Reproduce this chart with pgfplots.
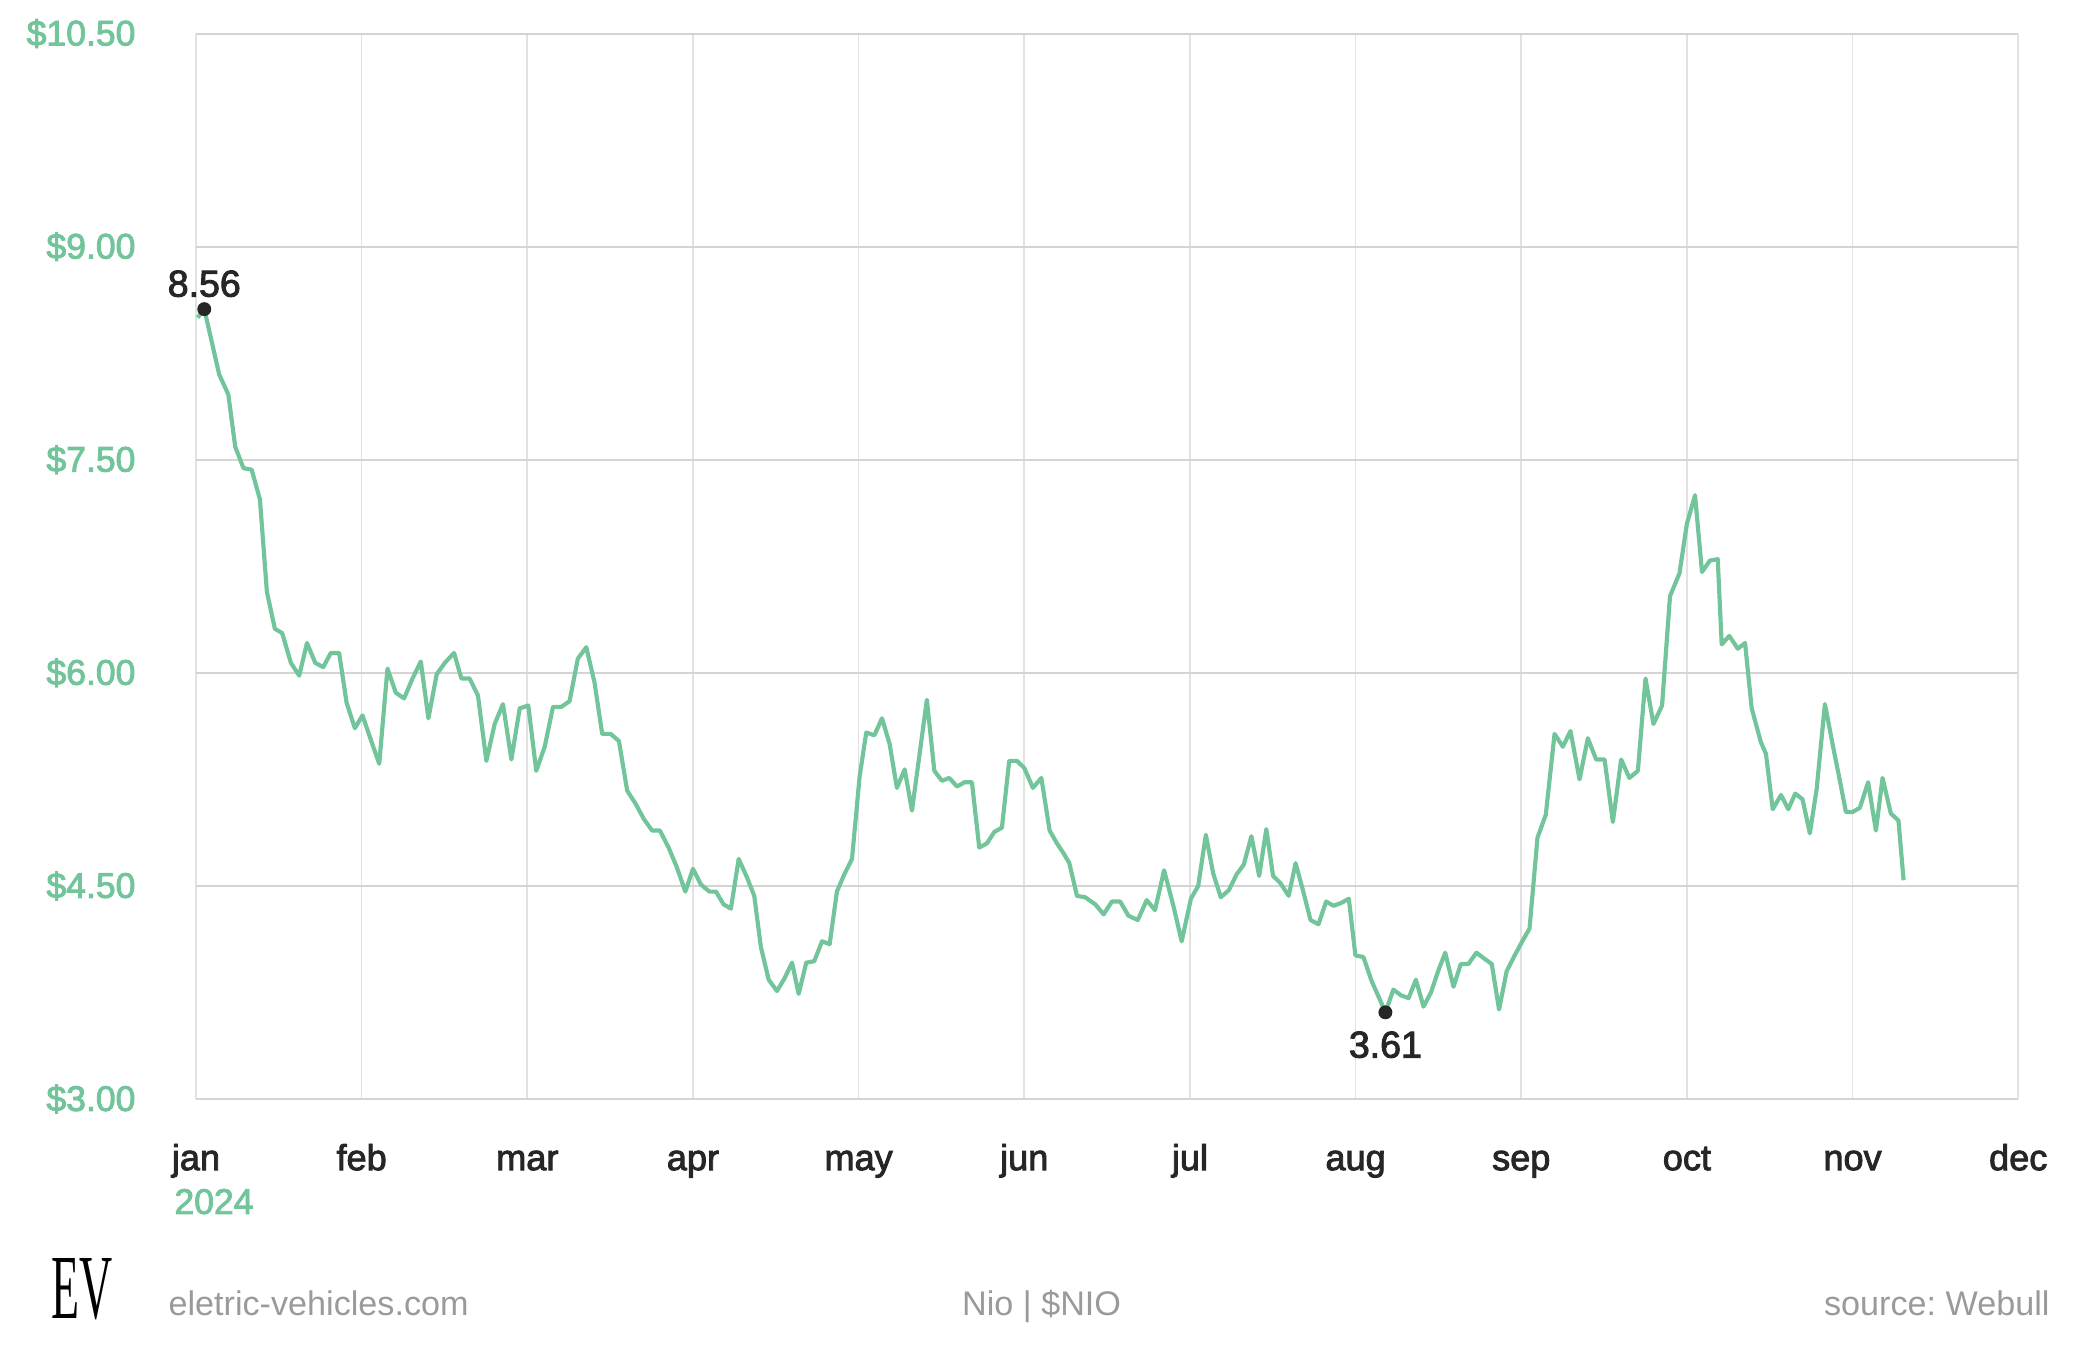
\documentclass[border=0pt]{standalone}
\usepackage{graphicx}
\usepackage{pgfplots}
\pgfplotsset{compat=1.18}
\usepackage{pgfplotstable}
\usepackage{fontspec}
\setmainfont{Liberation Sans}
\newfontfamily\medfont[FakeBold=2.5]{Liberation Sans}
\newfontfamily\seriffont{Liberation Serif}
\definecolor{evgreen}{HTML}{72C49A}
\definecolor{hgrid}{HTML}{D4D4D4}
\definecolor{vgrid}{HTML}{E2E2E2}
\definecolor{darktext}{HTML}{262626}
\definecolor{foot}{HTML}{9A9A9A}
\frenchspacing

\pgfplotstableread{
m v
0.01 8.50
0.05 8.56
0.14 8.10
0.195 7.96
0.237 7.59
0.287 7.44
0.336 7.43
0.386 7.22
0.428 6.57
0.476 6.31
0.52 6.28
0.573 6.07
0.623 5.98
0.67 6.21
0.72 6.07
0.768 6.04
0.814 6.14
0.864 6.14
0.909 5.79
0.959 5.61
1.005 5.70
1.055 5.53
1.106 5.36
1.156 6.03
1.206 5.86
1.256 5.82
1.307 5.96
1.357 6.08
1.403 5.68
1.453 5.99
1.502 6.07
1.558 6.14
1.602 5.96
1.652 5.96
1.702 5.84
1.753 5.38
1.803 5.64
1.853 5.78
1.904 5.39
1.954 5.75
2.006 5.77
2.054 5.31
2.105 5.48
2.155 5.76
2.205 5.76
2.255 5.80
2.305 6.10
2.356 6.18
2.406 5.93
2.452 5.57
2.503 5.57
2.553 5.52
2.603 5.17
2.653 5.08
2.704 4.97
2.753 4.89
2.80 4.89
2.853 4.77
2.903 4.63
2.954 4.46
3.0 4.62
3.048 4.51
3.099 4.46
3.139 4.46
3.185 4.37
3.229 4.34
3.276 4.69
3.326 4.56
3.37 4.43
3.41 4.07
3.457 3.84
3.507 3.76
3.553 3.85
3.598 3.96
3.638 3.74
3.684 3.96
3.732 3.97
3.779 4.11
3.825 4.09
3.869 4.46
3.913 4.58
3.96 4.69
4.006 5.27
4.046 5.58
4.095 5.56
4.141 5.68
4.187 5.50
4.231 5.19
4.278 5.32
4.322 5.03
4.412 5.81
4.457 5.31
4.503 5.24
4.547 5.26
4.594 5.20
4.64 5.23
4.684 5.23
4.728 4.77
4.775 4.80
4.819 4.88
4.865 4.91
4.909 5.38
4.956 5.38
5.0 5.33
5.052 5.19
5.103 5.26
5.153 4.89
5.197 4.80
5.237 4.73
5.272 4.66
5.318 4.43
5.368 4.42
5.429 4.37
5.479 4.30
5.529 4.39
5.579 4.39
5.629 4.29
5.685 4.26
5.739 4.40
5.789 4.33
5.844 4.61
5.90 4.36
5.95 4.11
6.006 4.41
6.05 4.50
6.096 4.86
6.14 4.59
6.186 4.42
6.235 4.47
6.281 4.58
6.325 4.65
6.371 4.85
6.418 4.57
6.461 4.90
6.502 4.57
6.546 4.52
6.596 4.43
6.638 4.66
6.682 4.47
6.728 4.26
6.776 4.23
6.822 4.39
6.867 4.36
6.913 4.38
6.959 4.41
6.999 4.01
7.047 4.00
7.097 3.83
7.139 3.72
7.18 3.61
7.228 3.77
7.274 3.73
7.32 3.71
7.364 3.84
7.41 3.65
7.455 3.75
7.498 3.90
7.541 4.03
7.591 3.79
7.635 3.95
7.681 3.95
7.729 4.03
7.775 3.99
7.822 3.95
7.866 3.63
7.912 3.90
7.96 4.01
8.006 4.11
8.05 4.20
8.098 4.84
8.148 5.00
8.201 5.57
8.251 5.48
8.297 5.59
8.352 5.25
8.402 5.54
8.452 5.39
8.503 5.39
8.553 4.95
8.603 5.39
8.653 5.26
8.704 5.31
8.75 5.96
8.798 5.64
8.85 5.77
8.898 6.54
8.955 6.70
9.0 7.05
9.049 7.25
9.091 6.71
9.139 6.79
9.186 6.80
9.21 6.20
9.256 6.26
9.307 6.17
9.351 6.21
9.391 5.75
9.447 5.51
9.477 5.43
9.518 5.04
9.568 5.14
9.612 5.04
9.654 5.15
9.698 5.11
9.742 4.87
9.783 5.18
9.833 5.78
9.879 5.50
9.92 5.26
9.96 5.02
10.0 5.02
10.044 5.05
10.094 5.23
10.141 4.89
10.181 5.26
10.231 5.01
10.277 4.96
10.308 4.54
}\nio

\begin{document}
\begin{tikzpicture}
\useasboundingbox (0,0) rectangle (750.24pt,-487.8pt);
\begin{axis}[
  scale only axis,
  width=656pt, height=383.58pt,
  at={(70.56pt,-395.64pt)}, anchor=south west,
  xmin=0, xmax=11, ymin=3, ymax=10.5,
  clip=false,
  axis line style={draw=none},
  major tick length=0pt,
  xtick={0,1,2,3,4,5,6,7,8,9,10,11},
  xticklabels={jan,feb,mar,apr,may,jun,jul,aug,sep,oct,nov,dec},
  ytick={3,4.5,6,7.5,9,10.5},
  yticklabels={\$3.00,\$4.50,\$6.00,\$7.50,\$9.00,\$10.50},
  xmajorgrids, ymajorgrids,
  x grid style={color=vgrid, line width=0.6pt},
  y grid style={color=hgrid, line width=0.7pt},
  yticklabel style={font=\medfont\fontsize{12.8}{14}\selectfont, text=evgreen, anchor=east, inner sep=0pt, xshift=-21.6pt},
  xticklabel style={font=\medfont\fontsize{13}{14}\selectfont, text=darktext, anchor=base, inner sep=0pt, yshift=-25.6pt},
]
\addplot[color=evgreen, line width=1.5pt, line join=round, no markers] table[x=m, y=v] {\nio};
\addplot[only marks, mark=*, mark size=2.3pt, color=darktext] coordinates {(0.05,8.56)}
  node[anchor=base, yshift=4.5pt, font=\medfont\fontsize{13.5}{15}\selectfont, text=darktext] {8.56};
\addplot[only marks, mark=*, mark size=2.3pt, color=darktext] coordinates {(7.18,3.61)}
  node[anchor=base, yshift=-16.3pt, font=\medfont\fontsize{13.5}{15}\selectfont, text=darktext] {3.61};
\end{axis}
\node[anchor=base west, inner sep=0pt, text=evgreen, font=\medfont\fontsize{12.8}{14}\selectfont] at (62.6pt,-437pt) {2024};
\node[anchor=base west, inner sep=0pt] at (18.4pt,-474.5pt) {\scalebox{0.5}[1]{\seriffont\fontsize{33}{33}\selectfont EV}};
\node[anchor=base west, inner sep=0pt, text=foot, font=\fontsize{12.3}{14}\selectfont] at (60.5pt,-473.4pt) {eletric-vehicles.com};
\node[anchor=base, inner sep=0pt, text=foot, font=\fontsize{12.3}{14}\selectfont] at (375pt,-473.4pt) {Nio | \$NIO};
\node[anchor=base east, inner sep=0pt, text=foot, font=\fontsize{12.3}{14}\selectfont] at (738pt,-473.4pt) {source: Webull};
\end{tikzpicture}
\end{document}
